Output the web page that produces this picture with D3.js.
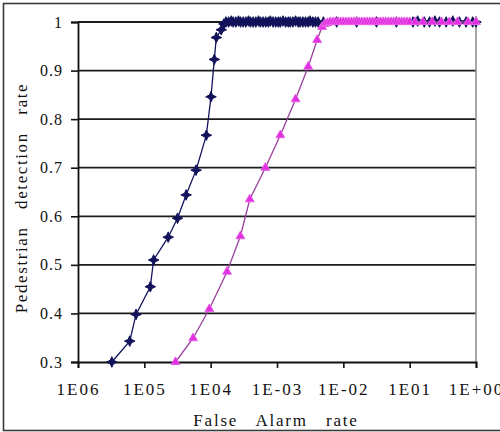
<!DOCTYPE html>
<html>
<head>
<meta charset="utf-8">
<script src="https://cdn.jsdelivr.net/npm/d3@7"></script>
<style>
  html, body { margin: 0; padding: 0; background: #fff; }
  svg { display: block; }
  text { font-family: "Liberation Serif", "Times New Roman", Times, "DejaVu Serif", serif; fill: #111; }
</style>
</head>
<body>
<svg id="chart" width="500" height="432"></svg>
<script>
// ---- data (log10 of false alarm rate, detection rate) ----
const xTickValues = [1e-6, 1e-5, 1e-4, 1e-3, 1e-2, 1e-1, 1];
const xTickLabels = ["1E06", "1E05", "1E04", "1E-03", "1E-02", "1E01", "1E+00"];
const yTickValues = [0.3, 0.4, 0.5, 0.6, 0.7, 0.8, 0.9, 1];
const yTickLabels = ["0.3", "0.4", "0.5", "0.6", "0.7", "0.8", "0.9", "1"];

const blueLogFAR = [-5.49, -5.22, -5.125, -4.91, -4.86, -4.64, -4.50, -4.37, -4.22, -4.065, -3.995, -3.945, -3.915, -3.84, -3.80,
  -3.77, -3.73, -3.69, -3.66, -3.62, -3.58, -3.55, -3.51, -3.47, -3.43, -3.40, -3.36, -3.32, -3.28, -3.25, -3.21, -3.17, -3.13,
  -3.10, -3.06, -3.02, -2.98, -2.95, -2.91, -2.87, -2.83, -2.80, -2.76, -2.72, -2.68, -2.65, -2.61, -2.57, -2.53, -2.50, -2.46,
  -2.42, -2.38, -2.30, -2.10, -1.80, -1.50, -1.20, -0.95, -0.88, -0.78, -0.70, -0.62, -0.55, -0.45, -0.35, -0.25, -0.15, -0.05, 0.0];
const blueDetRate = [0.30, 0.343, 0.398, 0.455, 0.510, 0.557, 0.596, 0.644, 0.695, 0.767, 0.846, 0.923, 0.968, 0.984, 0.996,
  1.0, 1.0, 1.002, 1.0, 1.0, 1.002, 1.0, 1.0, 1.0, 1.002, 1.0, 1.0, 1.0, 1.002, 1.0, 1.0, 1.0, 1.0,
  1.002, 1.0, 1.0, 1.0, 1.0, 1.002, 1.0, 1.0, 1.0, 1.0, 1.002, 1.0, 1.0, 1.0, 1.0, 1.0, 1.002, 1.0,
  1.0, 1.0, 1.0, 1.0, 1.0, 1.0, 1.0, 1.0, 1.002, 1.0, 1.0, 1.002, 1.0, 1.0, 1.002, 1.0, 1.0, 1.0, 1.0];

const magentaLogFAR = [-4.53, -4.265, -4.02, -3.753, -3.552, -3.41, -3.175, -2.95, -2.72, -2.53, -2.395, -2.32,
  -2.28, -2.24, -2.20, -2.16, -2.12, -2.08, -2.04, -2.00, -1.96, -1.92, -1.88, -1.84, -1.80, -1.76, -1.72, -1.68,
  -1.64, -1.60, -1.56, -1.52, -1.48, -1.44, -1.40, -1.36, -1.32, -1.28, -1.24, -1.20, -1.16, -1.12, -1.08, -1.04,
  -1.00, -0.92, -0.80, -0.66, -0.52, -0.40, -0.28, -0.12, 0.0];
const magentaDetRate = [0.30, 0.349, 0.409, 0.486, 0.559, 0.635, 0.700, 0.767, 0.841, 0.908, 0.963, 0.990,
  0.996, 0.998, 1.0, 1.0, 1.0, 1.0, 1.0, 1.0, 1.0, 1.0, 1.0, 1.0, 1.0, 1.0, 1.0, 1.0,
  1.0, 1.0, 1.0, 1.0, 1.0, 1.0, 1.0, 1.0, 1.0, 1.0, 1.0, 1.0, 1.0, 1.0, 1.0, 1.0,
  1.0, 1.0, 1.0, 1.0, 1.0, 1.0, 1.0, 1.0, 1.0];

const xTitle = "False   Alarm   rate";
const yTitle = "Pedestrian   detection   rate";

// ---- layout ----
const FONT = '"Liberation Serif", "Times New Roman", Times, "DejaVu Serif", serif';
const svg = d3.select("#chart");
const plot = { left: 78, right: 476, top: 22, bottom: 362 };

const x = d3.scaleLog().domain([1e-6, 1]).range([plot.left, plot.right]);
const y = d3.scaleLinear().domain([0.3, 1]).range([plot.bottom, plot.top]);

// outer border
svg.append("rect")
  .attr("x", 3.5).attr("y", 3.5).attr("width", 500).attr("height", 427)
  .attr("fill", "#fff").attr("stroke", "#3a3a3a").attr("stroke-width", 1.6);

// gridlines
svg.append("g").selectAll("line")
  .data(yTickValues.filter(v => v > 0.3))
  .join("line")
  .attr("x1", plot.left).attr("x2", plot.right)
  .attr("y1", d => y(d)).attr("y2", d => y(d))
  .attr("stroke", "#1c1c1c").attr("stroke-width", 1.8);

// right frame (gray)
svg.append("line")
  .attr("x1", plot.right).attr("x2", plot.right)
  .attr("y1", plot.top).attr("y2", plot.bottom)
  .attr("stroke", "#8a8a8a").attr("stroke-width", 1.5);

// y axis
const yAxis = d3.axisLeft(y).tickValues(yTickValues)
  .tickFormat((d, i) => yTickLabels[i]).tickSize(7).tickPadding(8);
const gy = svg.append("g").attr("transform", `translate(${plot.left},0)`).call(yAxis)
  .attr("font-family", FONT);
gy.select(".domain").attr("stroke", "#111").attr("stroke-width", 1.8);
gy.selectAll(".tick line").attr("stroke", "#111").attr("stroke-width", 1.6);
gy.selectAll(".tick text")
  .attr("font-family", FONT).style("font-family", FONT).style("font-size", "16px")
  .style("letter-spacing", "1px").attr("fill", "#111");

// x axis
const xAxis = d3.axisBottom(x).tickValues(xTickValues)
  .tickFormat((d, i) => xTickLabels[i]).tickSize(6).tickPadding(15);
const gx = svg.append("g").attr("transform", `translate(0,${plot.bottom})`).call(xAxis)
  .attr("font-family", FONT);
gx.select(".domain").attr("stroke", "#111").attr("stroke-width", 1.8);
gx.selectAll(".tick line").attr("stroke", "#111").attr("stroke-width", 1.6);
gx.selectAll(".tick text")
  .attr("font-family", FONT).style("font-family", FONT).style("font-size", "17px")
  .style("letter-spacing", "2px").attr("fill", "#111");

// titles
svg.append("text")
  .attr("x", 276).attr("y", 426)
  .attr("text-anchor", "middle")
  .attr("font-family", FONT)
  .style("font-size", "17px").style("letter-spacing", "1.8px").style("white-space", "pre")
  .text(xTitle);
svg.append("text")
  .attr("transform", "translate(27,198) rotate(-90)")
  .attr("text-anchor", "middle")
  .attr("font-family", FONT)
  .style("font-size", "17px").style("letter-spacing", "1.6px").style("white-space", "pre")
  .text(yTitle);

// series
const blue = blueLogFAR.map((v, i) => ({ fa: Math.pow(10, v), dr: blueDetRate[i] }));
const magenta = magentaLogFAR.map((v, i) => ({ fa: Math.pow(10, v), dr: magentaDetRate[i] }));

const line = d3.line().x(d => x(d.fa)).y(d => y(d.dr));

const star4 = {
  draw(ctx, size) {
    const r = Math.sqrt(size) * 0.8, ri = r * 0.45;
    for (let k = 0; k < 8; k++) {
      const a = -Math.PI / 2 + k * Math.PI / 4;
      const rr = k % 2 === 0 ? r : ri;
      const px = rr * Math.cos(a), py = rr * Math.sin(a);
      if (k === 0) ctx.moveTo(px, py); else ctx.lineTo(px, py);
    }
    ctx.closePath();
  }
};

svg.append("path").datum(blue)
  .attr("d", line).attr("fill", "none")
  .attr("stroke", "#14145e").attr("stroke-width", 1.3);
svg.append("g").selectAll("path")
  .data(blue).join("path")
  .attr("transform", d => `translate(${x(d.fa)},${y(d.dr)})`)
  .attr("d", d3.symbol().type(star4).size(44))
  .attr("fill", "#12125a").attr("stroke", "#12125a").attr("stroke-width", 1);

svg.append("path").datum(magenta)
  .attr("d", line).attr("fill", "none")
  .attr("stroke", "#9a3f9a").attr("stroke-width", 1.3);
svg.append("g").selectAll("path")
  .data(magenta).join("path")
  .attr("transform", d => `translate(${x(d.fa)},${y(d.dr)})`)
  .attr("d", d3.symbol().type(d3.symbolTriangle).size(34))
  .attr("fill", "#e02ee0").attr("stroke", "#e860e8").attr("stroke-width", 1);
</script>
</body>
</html>
